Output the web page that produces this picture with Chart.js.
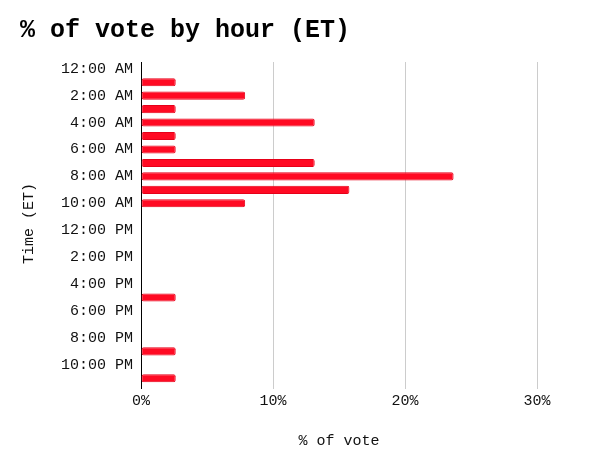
<!DOCTYPE html>
<html>
<head>
    <script src="https://cdn.jsdelivr.net/npm/chart.js@4.4.1/dist/chart.umd.min.js"></script>
    <style>
    body {
        margin: 0;
        background-color: #fff;
    }
    #wrap {
        width: 600px;
        height: 468px;
    }
    </style>
    <title>% of vote by hour (ET)</title>
</head>
<body>

<div id="wrap"><canvas id="myChart"></canvas></div>

<script>
    // hours of the day (ET), every other one gets a visible tick label
    var hours = ['12:00 AM', '1:00 AM', '2:00 AM', '3:00 AM', '4:00 AM', '5:00 AM',
                 '6:00 AM', '7:00 AM', '8:00 AM', '9:00 AM', '10:00 AM', '11:00 AM',
                 '12:00 PM', '1:00 PM', '2:00 PM', '3:00 PM', '4:00 PM', '5:00 PM',
                 '6:00 PM', '7:00 PM', '8:00 PM', '9:00 PM', '10:00 PM', '11:00 PM'];
    // % of vote for each hour
    var votePct = [0, 2.63, 7.89, 2.63, 13.16, 2.63,
                   2.63, 13.16, 23.68, 15.79, 7.89, 0,
                   0, 0, 0, 0, 0, 2.63,
                   0, 0, 0, 2.63, 0, 2.63];
    var xTicks = [0, 10, 20, 30];

    var mono = '"Courier New", "Liberation Mono", monospace';

    var ctx = document.getElementById('myChart').getContext('2d');
    var myChart = new Chart(ctx, {
        type: 'bar',
        data: {
            labels: hours,
            datasets: [{
                label: '% of vote',
                data: votePct,
                backgroundColor: 'rgb(255, 10, 35)',
                borderColor: 'rgb(230, 0, 25)',
                borderWidth: 1,
                borderRadius: 2,
                borderSkipped: false,
                barPercentage: 0.6,
                categoryPercentage: 1
            }]
        },
        options: {
            indexAxis: 'y',
            responsive: true,
            maintainAspectRatio: false,
            animation: false,
            layout: {
                padding: {left: 20, right: 63, top: 0, bottom: 0}
            },
            scales: {
                x: {
                    min: 0,
                    max: 30,
                    afterBuildTicks: function (axis) {
                        axis.ticks = xTicks.map(function (v) { return {value: v}; });
                    },
                    grid: {
                        color: function (c) { return c.tick && c.tick.value === 0 ? '#000' : '#ccc'; },
                        lineWidth: 1,
                        tickLength: 4
                    },
                    border: {display: false},
                    ticks: {
                        padding: 3,
                        color: '#111',
                        font: {family: mono, size: 15},
                        callback: function (v) { return v + '%'; }
                    },
                    title: {
                        display: true,
                        text: '% of vote',
                        color: '#111',
                        font: {family: mono, size: 15},
                        padding: {top: 19, bottom: 18}
                    }
                },
                y: {
                    grid: {display: false, drawTicks: false},
                    border: {display: true, color: '#000', width: 1},
                    ticks: {
                        autoSkip: false,
                        padding: 8,
                        color: '#111',
                        font: {family: mono, size: 15},
                        callback: function (v, i) { return i % 2 === 0 ? hours[i] : ''; }
                    },
                    title: {
                        display: true,
                        text: 'Time (ET)',
                        color: '#111',
                        font: {family: mono, size: 15},
                        padding: {top: 0, bottom: 15}
                    }
                }
            },
            plugins: {
                legend: {display: false},
                tooltip: {enabled: false},
                title: {
                    display: true,
                    text: '% of vote by hour (ET)',
                    align: 'start',
                    color: '#000',
                    font: {family: mono, size: 25, weight: 'bold'},
                    padding: {top: 16, bottom: 16}
                }
            }
        }
    });
</script>

</body>
</html>
